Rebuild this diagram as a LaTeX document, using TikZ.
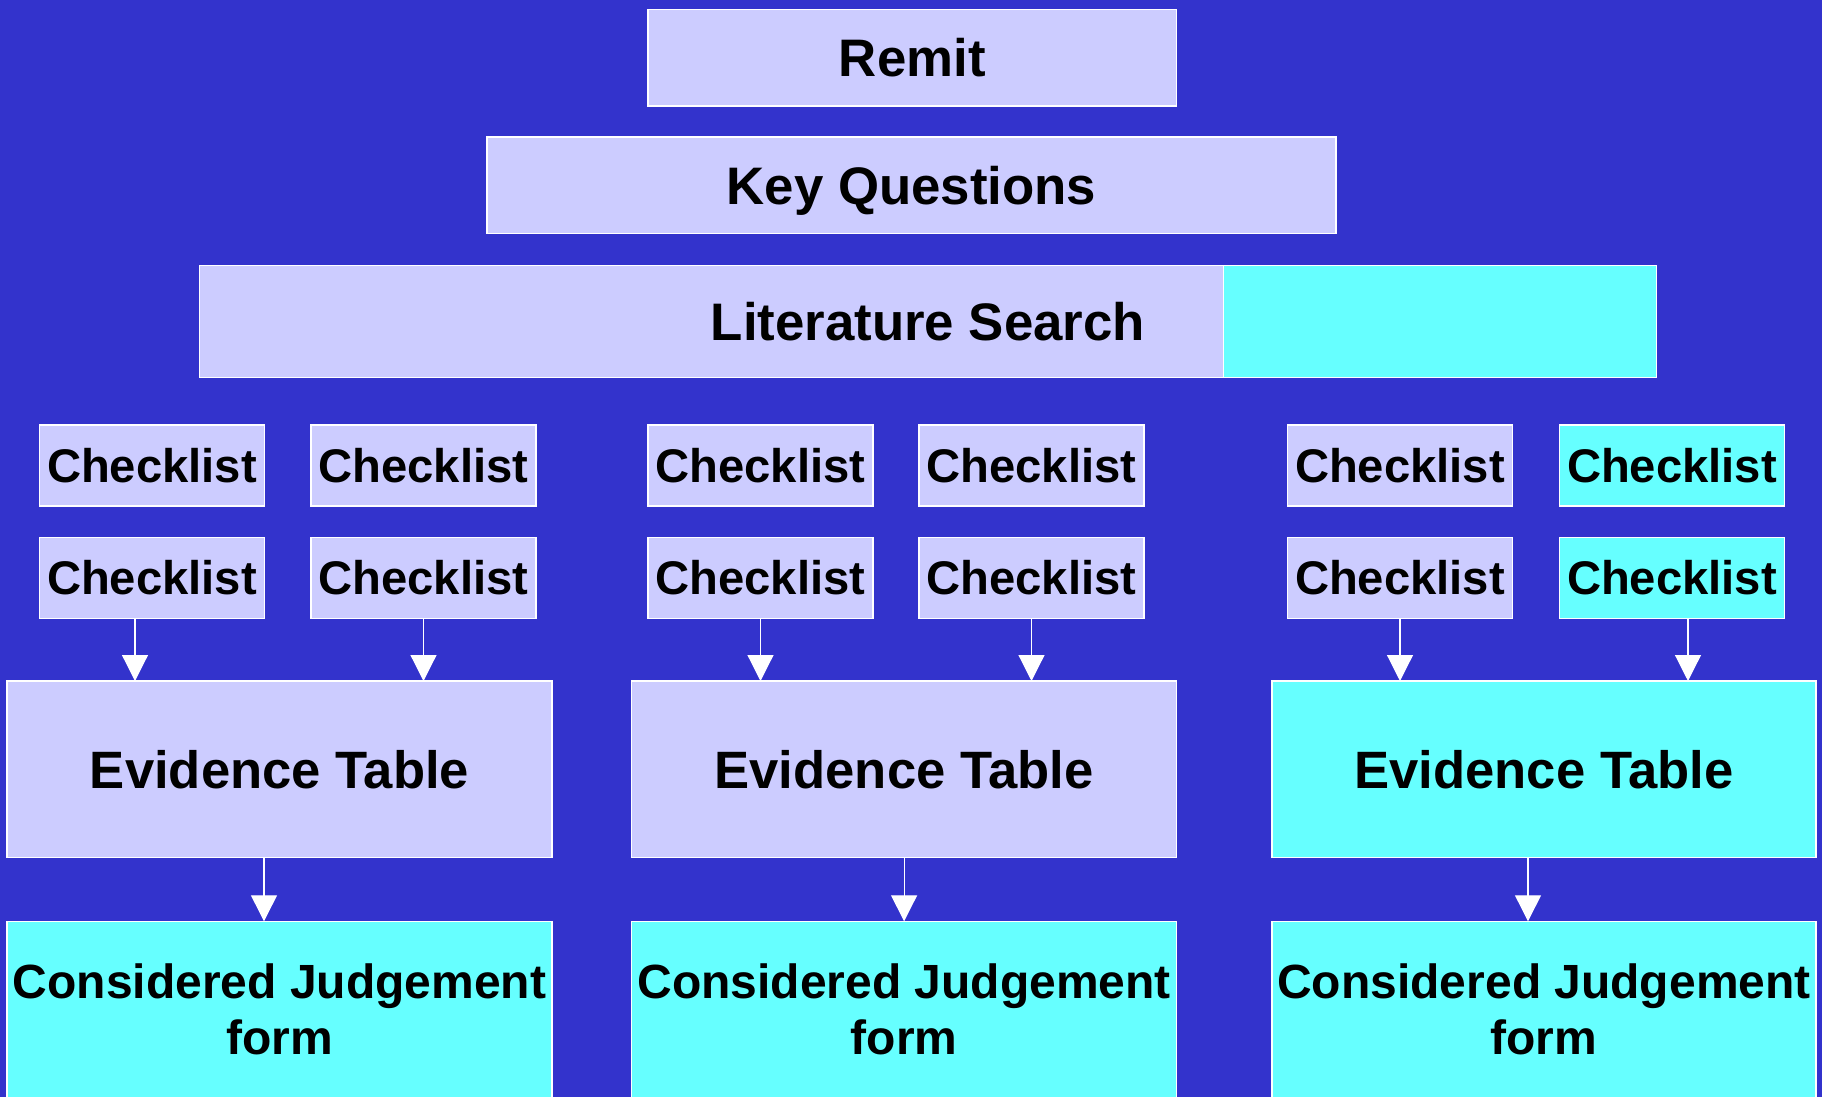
\documentclass[tikz,border=0pt]{standalone}
\usepackage{fontspec}
\setmainfont{Liberation Sans}
\usetikzlibrary{arrows.meta}
\definecolor{bgblue}{RGB}{51,51,204}
\definecolor{lav}{RGB}{204,204,255}
\definecolor{cyn}{RGB}{102,255,255}
\tikzset{
  box/.style={draw=white, line width=0.7pt, inner sep=0pt, outer sep=0pt, anchor=north west, font=\bfseries, text=black},
  lavbox/.style={box, fill=lav},
  cynbox/.style={box, fill=cyn},
  topfont/.style={font=\bfseries\fontsize{26.4pt}{30pt}\selectfont, text height=18.9pt, text depth=0pt},
  clfont/.style={font=\bfseries\fontsize{23.6pt}{28pt}\selectfont, text height=16.9pt, text depth=0pt},
  etfont/.style={font=\bfseries\fontsize{26.3pt}{30pt}\selectfont, text height=18.8pt, text depth=0pt},
  cjfont/.style={font=\bfseries\fontsize{24pt}{27.7pt}\selectfont, align=center},
  clbox/.style={minimum width=112.5pt, minimum height=40.5pt, clfont},
  etbox/.style={minimum width=272.5pt, minimum height=88.35pt, etfont},
  cjbox/.style={cynbox, minimum width=272.5pt, minimum height=88pt, cjfont},
  arr/.style={draw=white, line width=0.6pt, -{Triangle[length=13pt,width=13pt,fill=white]}}
}
\begin{document}
\begin{tikzpicture}[x=0.5pt, y=-0.5pt]
\fill[bgblue] (0,0) rectangle (1822,1097);
\useasboundingbox (0,0) rectangle (1822,1097);
% top
\node[lavbox, topfont, minimum width=264.25pt, minimum height=48.35pt] (remit) at (648,9.3) {Remit};
\node[lavbox, topfont, minimum width=424.5pt, minimum height=48.35pt] (kq) at (487,137) {Key Questions};
\node[lavbox, topfont, minimum width=728.6pt, minimum height=56.2pt] (lit) at (199.3,265.3) {Literature Search};
\node[cynbox, minimum width=216.5pt, minimum height=56.2pt] (litc) at (1223.6,265.3) {};
% checklists row 1
\node[lavbox, clbox] (c11) at (39.5,425) {Checklist};
\node[lavbox, clbox] (c12) at (311,425) {Checklist};
\node[lavbox, clbox] (c13) at (648,425) {Checklist};
\node[lavbox, clbox] (c14) at (919,425) {Checklist};
\node[lavbox, clbox] (c15) at (1287.5,425) {Checklist};
\node[cynbox, clbox] (c16) at (1559.5,425) {Checklist};
% checklists row 2
\node[lavbox, clbox] (c21) at (39.5,537.3) {Checklist};
\node[lavbox, clbox] (c22) at (311,537.3) {Checklist};
\node[lavbox, clbox] (c23) at (648,537.3) {Checklist};
\node[lavbox, clbox] (c24) at (919,537.3) {Checklist};
\node[lavbox, clbox] (c25) at (1287.5,537.3) {Checklist};
\node[cynbox, clbox] (c26) at (1559.5,537.3) {Checklist};
% evidence tables
\node[lavbox, etbox] (e1) at (7,681) {Evidence Table};
\node[lavbox, etbox] (e2) at (631.6,681) {Evidence Table};
\node[cynbox, etbox, minimum width=272pt] (e3) at (1272,681) {Evidence Table};
% considered judgement
\node[cjbox] (j1) at (7,921.3) {Considered Judgement\\form};
\node[cjbox] (j2) at (631.6,921.3) {Considered Judgement\\form};
\node[cjbox, minimum width=272pt] (j3) at (1272,921.3) {Considered Judgement\\form};
% arrows checklist -> evidence table
\draw[arr] ([xshift=-8.5pt]c21.south) -- ([xshift=-8.5pt]c21.south |- e1.north);
\draw[arr] (c22.south) -- (c22.south |- e1.north);
\draw[arr] (c23.south) -- (c23.south |- e2.north);
\draw[arr] (c24.south) -- (c24.south |- e2.north);
\draw[arr] (c25.south) -- (c25.south |- e3.north);
\draw[arr] ([xshift=8pt]c26.south) -- ([xshift=8pt]c26.south |- e3.north);
% arrows evidence table -> judgement
\draw[arr] ([xshift=-7.75pt]e1.south) -- ([xshift=-7.75pt]e1.south |- j1.north);
\draw[arr] (e2.south) -- (j2.north);
\draw[arr] ([xshift=-8pt]e3.south) -- ([xshift=-8pt]e3.south |- j3.north);
\end{tikzpicture}
\end{document}
